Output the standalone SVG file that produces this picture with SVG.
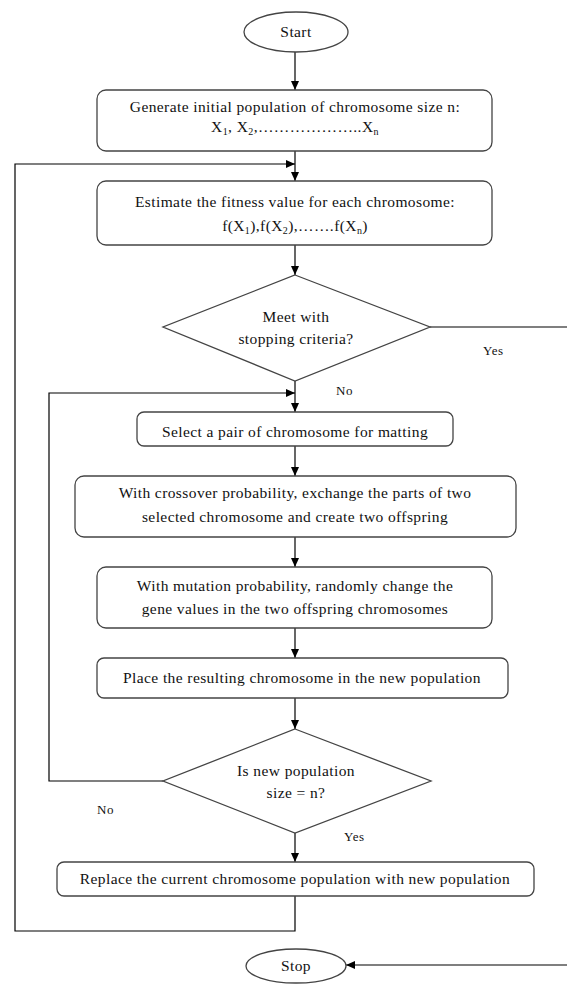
<svg xmlns="http://www.w3.org/2000/svg" width="567" height="996" viewBox="0 0 567 996" font-family="'Liberation Serif', 'DejaVu Serif', serif">
<defs>
<marker id="ah" markerWidth="10" markerHeight="8" refX="9" refY="4" orient="auto" markerUnits="userSpaceOnUse">
<path d="M0,0 L9,4 L0,8 Z" fill="#000"/>
</marker>
<style>
.box{fill:#fff;stroke:#444;stroke-width:1.3}
.t{font-family:'Liberation Serif','DejaVu Serif',serif;font-size:15.5px;letter-spacing:0.4px;fill:#111;text-anchor:middle}
.lbl{font-family:'Liberation Serif','DejaVu Serif',serif;font-size:13px;letter-spacing:0.6px;fill:#111}
.c{fill:none;stroke:#000;stroke-width:1.2}
</style>
</defs>
<rect width="567" height="996" fill="#fff"/>
<g id="connectors">
<line class="c" x1="295" y1="52" x2="295" y2="90" marker-end="url(#ah)"/>
<line class="c" x1="295" y1="151" x2="295" y2="181" marker-end="url(#ah)"/>
<line class="c" x1="295" y1="245" x2="295" y2="275" marker-end="url(#ah)"/>
<line class="c" x1="295" y1="381" x2="295" y2="412" marker-end="url(#ah)"/>
<line class="c" x1="295" y1="446" x2="295" y2="476" marker-end="url(#ah)"/>
<line class="c" x1="295" y1="537" x2="295" y2="567" marker-end="url(#ah)"/>
<line class="c" x1="295" y1="628" x2="295" y2="658" marker-end="url(#ah)"/>
<line class="c" x1="295" y1="698" x2="295" y2="729" marker-end="url(#ah)"/>
<line class="c" x1="295" y1="833" x2="295" y2="862" marker-end="url(#ah)"/>
<polyline class="c" points="295,896 295,931 15,931 15,164 295,164" marker-end="url(#ah)"/>
<polyline class="c" points="163,781 49,781 49,393 295,393" marker-end="url(#ah)"/>
<polyline class="c" points="430,327 568,327 568,965 346,965" marker-end="url(#ah)"/>
<text class="lbl" x="483" y="355">Yes</text>
<text class="lbl" x="336" y="395">No</text>
<text class="lbl" x="97" y="814">No</text>
<text class="lbl" x="344" y="841">Yes</text>
</g>
<g id="start">
<ellipse class="box" cx="296" cy="32" rx="52" ry="20"/>
<text class="t" x="296" y="37">Start</text>
</g>
<g id="generate">
<rect class="box" x="97" y="90" width="395" height="61" rx="9"/>
<text class="t" x="295" y="112">Generate initial population of chromosome size n:</text>
<text class="t" x="295" y="132">X<tspan font-size="10" dy="3">1</tspan><tspan dy="-3">, X</tspan><tspan font-size="10" dy="3">2</tspan><tspan dy="-3">,………………..X</tspan><tspan font-size="10" dy="3">n</tspan></text>
</g>
<g id="fitness">
<rect class="box" x="97" y="181" width="395" height="64" rx="9"/>
<text class="t" x="295" y="207">Estimate the fitness value for each chromosome:</text>
<text class="t" x="295" y="231">f(X<tspan font-size="10" dy="3">1</tspan><tspan dy="-3">),f(X</tspan><tspan font-size="10" dy="3">2</tspan><tspan dy="-3">),…….f(X</tspan><tspan font-size="10" dy="3">n</tspan><tspan dy="-3">)</tspan></text>
</g>
<g id="stopping">
<polygon class="box" points="295,275 430,327 295,381 163,327"/>
<text class="t" x="296" y="322">Meet with</text>
<text class="t" x="296" y="344">stopping criteria?</text>
</g>
<g id="select">
<rect class="box" x="137" y="412" width="316" height="34" rx="7"/>
<text class="t" x="295" y="437">Select a pair of chromosome for matting</text>
</g>
<g id="crossover">
<rect class="box" x="75" y="476" width="441" height="61" rx="9"/>
<text class="t" x="295" y="498">With crossover probability, exchange the parts of two</text>
<text class="t" x="295" y="522">selected chromosome and create two offspring</text>
</g>
<g id="mutation">
<rect class="box" x="97" y="567" width="395" height="61" rx="9"/>
<text class="t" x="295" y="591">With mutation probability, randomly change the</text>
<text class="t" x="295" y="614">gene values in the two offspring chromosomes</text>
</g>
<g id="place">
<rect class="box" x="97" y="658" width="411" height="40" rx="7"/>
<text class="t" x="302" y="683">Place the resulting chromosome in the new population</text>
</g>
<g id="newsize">
<polygon class="box" points="295,729 431,781 295,833 163,781"/>
<text class="t" x="296" y="776">Is new population</text>
<text class="t" x="296" y="798">size = n?</text>
</g>
<g id="replace">
<rect class="box" x="57" y="862" width="477" height="34" rx="7"/>
<text class="t" x="295" y="884">Replace the current chromosome population with new population</text>
</g>
<g id="stop">
<ellipse class="box" cx="296" cy="966" rx="50" ry="17"/>
<text class="t" x="296" y="971">Stop</text>
</g>
</svg>
